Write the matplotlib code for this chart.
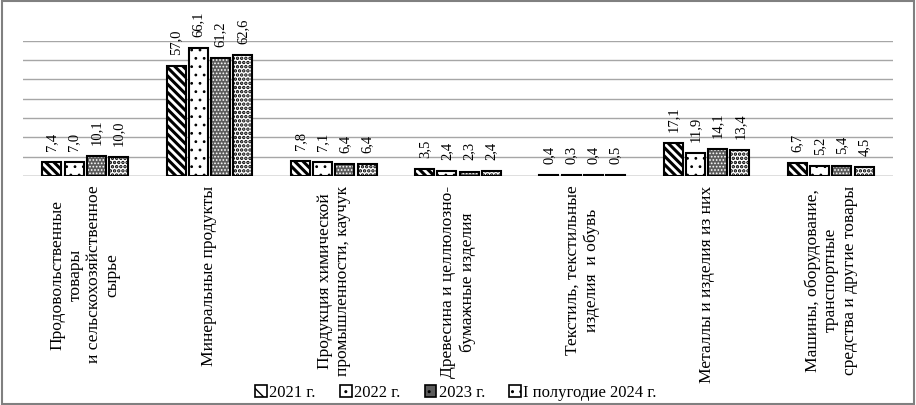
import matplotlib
matplotlib.use("Agg")
import matplotlib.pyplot as plt
import matplotlib.patches as mpatches
import numpy as np

plt.rcParams['font.family'] = ['Liberation Serif', 'DejaVu Serif']

categories = [
    "Продовольственные\nтовары\nи сельскохозяйственное\nсырье",
    "Минеральные продукты",
    "Продукция химической\nпромышленности, каучук",
    "Древесина и целлюлозно-\nбумажные изделия",
    "Текстиль, текстильные\nизделия  и обувь",
    "Металлы и изделия из них",
    "Машины, оборудование,\nтранспортные\nсредства и другие товары",
]
series_names = ["2021 г.", "2022 г.", "2023 г.", "I полугодие 2024 г."]
v2021 = [7.4, 57.0, 7.8, 3.5, 0.4, 17.1, 6.7]
v2022 = [7.0, 66.1, 7.1, 2.4, 0.3, 11.9, 5.2]
v2023 = [10.1, 61.2, 6.4, 2.3, 0.4, 14.1, 5.4]
v2024 = [10.0, 62.6, 6.4, 2.4, 0.5, 13.4, 4.5]
series = [v2021, v2022, v2023, v2024]

styles = [
    dict(facecolor='white', hatch='\\\\\\\\', hatchcolor='black', hlw=2.2),
    dict(facecolor='white', hatch='..', hatchcolor='black', hlw=0.8),
    dict(facecolor='#5c5c5c', hatch='.....', hatchcolor='white', hlw=0.8),
    dict(facecolor='white', hatch='....', hatchcolor='black', hlw=1.7),
]

fig = plt.figure(figsize=(9.16, 4.05), dpi=100)
ax = fig.add_axes([23/916, 229/405, 870/916, (176-40.7)/405])

x = np.arange(len(categories))
w = 0.153
step = 0.179
offs = (np.arange(4) - 1.5) * step

def make_bars(xs, vals, st, a):
    with plt.rc_context({'hatch.linewidth': st['hlw']}):
        b1 = a.bar(xs, vals, w, facecolor=st['facecolor'], edgecolor=st['hatchcolor'],
                   hatch=st['hatch'], linewidth=0, zorder=2)
        for p in b1:
            if hasattr(p, 'set_hatch_linewidth'):
                p.set_hatch_linewidth(st['hlw'])
    a.bar(xs, vals, w, fill=False, edgecolor='black', linewidth=1.5, zorder=3)
    return b1

for i, (vals, st) in enumerate(zip(series, styles)):
    make_bars(x + offs[i], vals, st, ax)
    for xi, v in zip(x + offs[i], vals):
        ax.annotate(f"{v:.1f}".replace('.', ','), (xi, v), xytext=(0, 8),
                    textcoords='offset points', rotation=90, ha='center', va='bottom',
                    fontsize=10.5, annotation_clip=False)

ax.set_xlim(-0.5, len(categories) - 0.5)
ax.set_ylim(0, 70)
ax.set_yticks(np.arange(0, 71, 10))
ax.yaxis.grid(True, color='#a6a6a6', linewidth=1.0)
ax.set_axisbelow(True)
ax.tick_params(left=False, bottom=False, labelleft=False, labelbottom=False)
for s in ax.spines.values():
    s.set_visible(False)
ax.axhline(0, color='#a6a6a6', linewidth=1.0, zorder=1)

for xi, lab in zip(x, categories):
    ax.annotate(lab, (xi, 0), xytext=(0, -7), textcoords='offset points',
                rotation=90, ha='center', va='top', multialignment='center',
                fontsize=12.6, linespacing=1.2, annotation_clip=False)

# legend
handles = []
for st in styles:
    with plt.rc_context({'hatch.linewidth': min(st['hlw'], 1.2)}):
        handles.append(mpatches.Patch(facecolor=st['facecolor'], edgecolor='black',
                                      hatch=st['hatch'][:2], linewidth=1.2))
fig.legend(handles, series_names, loc='center', bbox_to_anchor=(456/916, 1 - 393/405),
           ncol=4, frameon=False, fontsize=12, handlelength=0.7, handleheight=0.7,
           handletextpad=0.15, columnspacing=1.45)

fig.patches.append(mpatches.Rectangle((0.002, 0.003), 0.996, 0.994, transform=fig.transFigure,
                                      fill=False, edgecolor='#808080', linewidth=1.5))

fig.savefig('out.png', dpi=100)
